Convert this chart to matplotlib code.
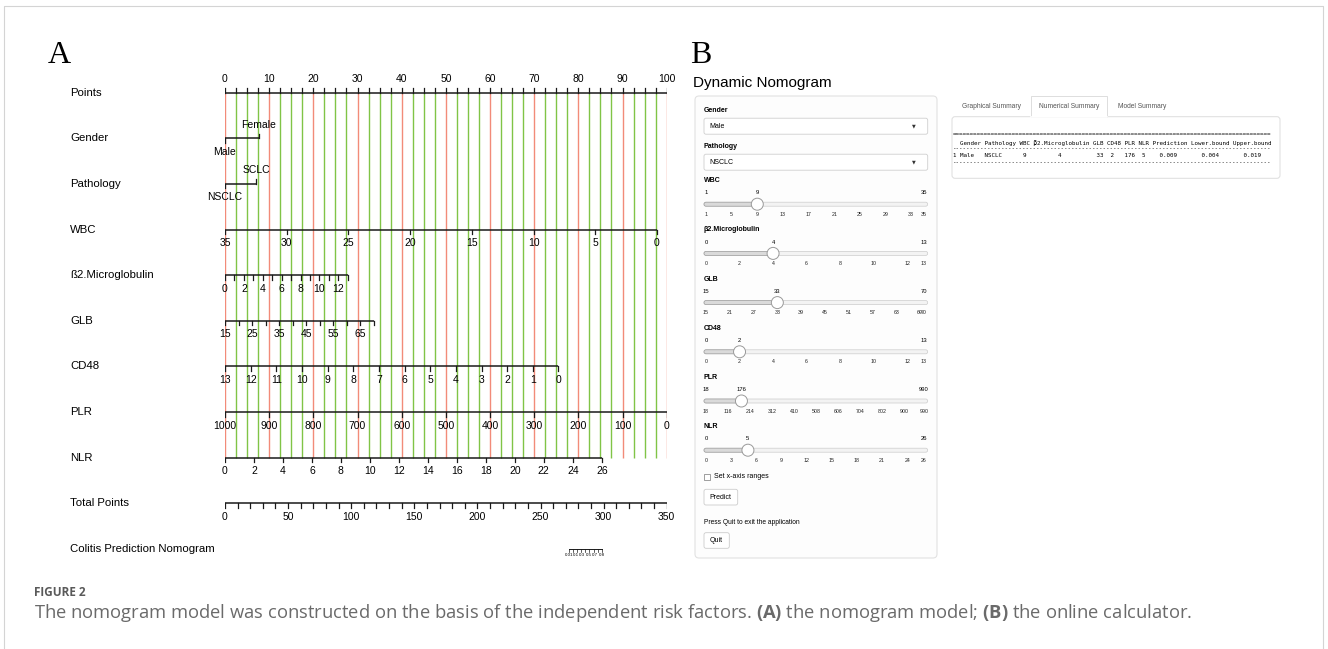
import numpy as np
import matplotlib.pyplot as plt
from matplotlib.patches import FancyBboxPatch, Rectangle, Circle

# ---------------- panel A : nomogram ----------------
row_names = ["Points", "Gender", "Pathology", "WBC", "ß2.Microglobulin", "GLB",
             "CD48", "PLR", "NLR", "Total Points", "Colitis Prediction Nomogram"]

points_ticks = np.arange(0, 100.1, 2.5)
points_labels = list(range(0, 101, 10))
gender_levels = ["Male", "Female"]
gender_points = [0.0, 7.7]
pathology_levels = ["NSCLC", "SCLC"]
pathology_points = [0.0, 7.1]
wbc_ticks = [35, 30, 25, 20, 15, 10, 5, 0]
wbc_points = [0.0, 97.8]
b2m_ticks = list(range(0, 14))
b2m_labels = [0, 2, 4, 6, 8, 10, 12]
b2m_points = [0.0, 27.8]
glb_ticks = list(range(15, 71, 5))
glb_labels = [15, 25, 35, 45, 55, 65]
glb_points = [0.0, 33.7]
cd48_ticks = list(range(13, -1, -1))
cd48_points = [0.0, 75.5]
plr_ticks = list(range(1000, -1, -100))
plr_points = [0.0, 100.0]
nlr_ticks = list(range(0, 27, 2))
nlr_points = [0.0, 85.3]
total_ticks = list(range(0, 351, 10))
total_labels = list(range(0, 351, 50))
total_range = [0, 350]
risk_labels = ["0.01", "0.1", "0.3", "0.5", "0.7", "0.8"]
risk_total = [272.6, 278.0, 283.0, 288.0, 293.0, 298.5]

# ---------------- panel B : online calculator ----------------
select_names = ["Gender", "Pathology"]
select_values = ["Male", "NSCLC"]
slider_names = ["WBC", "β2.Microglobulin", "GLB", "CD48", "PLR", "NLR"]
slider_min = [1, 0, 15, 0, 18, 0]
slider_max = [35, 13, 70, 13, 990, 26]
slider_value = [9, 4, 33, 2, 176, 5]
slider_grid = [
    [1, 5, 9, 13, 17, 21, 25, 29, 33, 35],
    [0, 2, 4, 6, 8, 10, 12, 13],
    [15, 21, 27, 33, 39, 45, 51, 57, 63, 69, 70],
    [0, 2, 4, 6, 8, 10, 12, 13],
    [18, 116, 214, 312, 410, 508, 606, 704, 802, 900, 990],
    [0, 3, 6, 9, 12, 15, 18, 21, 24, 26],
]
tab_names = ["Graphical Summary", "Numerical Summary", "Model Summary"]
summary_cols = ["Gender", "Pathology", "WBC", "β2.Microglobulin", "GLB", "CD48",
                "PLR", "NLR", "Prediction", "Lower.bound", "Upper.bound"]
summary_vals = ["Male", "NSCLC", "9", "4", "33", "2", "176", "5",
                "0.009", "0.004", "0.019"]

RED = "#F28B79"
GREEN = "#80C447"
SANS = ["Liberation Sans", "DejaVu Sans"]

fig = plt.figure(figsize=(13.28, 6.49), dpi=100)
ax = fig.add_axes([0, 0, 1, 1])
ax.set_xlim(0, 1328)
ax.set_ylim(649, 0)
ax.axis("off")

# page border
ax.plot([4, 4, 1323, 1323], [649, 6, 6, 649], color="#d4d4d4", lw=0.8)

# nomogram axes: x in points (0-100), y in pixels
nom = fig.add_axes([225 / 1328, 0, (666.7 - 225) / 1328, 1])
nom.set_xlim(0, 100)
nom.set_ylim(649, 0)
nom.axis("off")

row_y = [92.7 + 45.63 * i for i in range(len(row_names))]
for name, y in zip(row_names, row_y):
    ax.text(70, y, name, ha="left", va="center", fontsize=8.2, family=SANS)

ax.text(48, 63, "A", fontsize=23, family=["Liberation Serif"], va="baseline")
ax.text(690, 63, "B", fontsize=23, family=["Liberation Serif"], va="baseline")

# reference grid lines
for p in points_ticks:
    col = RED if p % 10 == 0 else GREEN
    nom.plot([p, p], [row_y[0], row_y[8]], color=col, lw=1.0, zorder=1,
             solid_capstyle="butt")


def lin(v, v0, v1, p):
    return p[0] + (np.asarray(v, float) - v0) / (v1 - v0) * (p[1] - p[0])


def draw_scale(y, ticks, pts, labels=None, above=False, tick_len=4.5, fs=7.5):
    x = lin(ticks, ticks[0], ticks[-1], pts)
    nom.plot([x.min(), x.max()], [y, y], color="#1a1a1a", lw=1.1, zorder=3,
             solid_capstyle="butt")
    d = -tick_len if above else tick_len
    for xi in x:
        nom.plot([xi, xi], [y, y + d], color="#1a1a1a", lw=0.9, zorder=3)
    if labels is None:
        labels = ticks
    lx = lin(labels, ticks[0], ticks[-1], pts)
    off = -13.5 if above else 13.5
    for xi, lab in zip(lx, labels):
        nom.text(xi, y + off, str(lab), ha="center", va="center", fontsize=fs,
                 family=SANS, zorder=4)


draw_scale(row_y[0], list(points_ticks), [0, 100], labels=points_labels, above=True)

# categorical rows
for y, levels, pts in [(row_y[1], gender_levels, gender_points),
                       (row_y[2], pathology_levels, pathology_points)]:
    nom.plot(pts, [y, y], color="#1a1a1a", lw=1.1, zorder=3)
    nom.plot([pts[0], pts[0]], [y, y + 4.5], color="#1a1a1a", lw=0.9, zorder=3)
    nom.plot([pts[1], pts[1]], [y, y - 4.5], color="#1a1a1a", lw=0.9, zorder=3)
    nom.text(pts[0], y + 13.5, levels[0], ha="center", va="center", fontsize=7.5, family=SANS)
    nom.text(pts[1], y - 13.5, levels[1], ha="center", va="center", fontsize=7.5, family=SANS)

draw_scale(row_y[3], wbc_ticks, wbc_points)
draw_scale(row_y[4], b2m_ticks, b2m_points, labels=b2m_labels)
draw_scale(row_y[5], glb_ticks, glb_points, labels=glb_labels)
draw_scale(row_y[6], cd48_ticks, cd48_points)
draw_scale(row_y[7], plr_ticks, plr_points)
draw_scale(row_y[8], nlr_ticks, nlr_points)
draw_scale(row_y[9], total_ticks, [0, 100], labels=total_labels)

# risk scale (positions on total points)
rx = lin(risk_total, total_range[0], total_range[1], [0, 100])
ry = row_y[10]
nom.plot([rx[0], rx[-1]], [ry, ry], color="#1a1a1a", lw=0.7)
for xi in np.linspace(rx[0], rx[-1], 9):
    nom.plot([xi, xi], [ry, ry + 2.5], color="#1a1a1a", lw=0.5)
for xi, lab in zip(rx, risk_labels):
    nom.text(xi, ry + 6.5, lab, ha="center", va="center", fontsize=3.2, family=SANS)

# ---------------- panel B drawing ----------------
ax.text(693, 83.3, "Dynamic Nomogram", fontsize=11, family=SANS, va="center")
ax.add_patch(FancyBboxPatch((695, 96), 242, 462, boxstyle="round,pad=0,rounding_size=4",
                            fc="#fdfdfd", ec="#e2e2e2", lw=0.8))

bx0, bx1 = 704, 927.7
for i, (nm, val) in enumerate(zip(select_names, select_values)):
    y = 110.7 + 36 * i
    ax.text(bx0, y, nm, fontsize=5, fontweight="bold", family=SANS, va="center")
    ax.add_patch(FancyBboxPatch((bx0, y + 7.5), bx1 - bx0, 16,
                                boxstyle="round,pad=0,rounding_size=2",
                                fc="white", ec="#cfcfcf", lw=0.6))
    ax.text(bx0 + 5, y + 15.5, val, fontsize=5, family=SANS, va="center")
    ax.text(914, y + 15.5, "▼", fontsize=3.5, family=["DejaVu Sans"], va="center",
            ha="center", color="#333333")

gx0, gx1 = 706, 924
for i, nm in enumerate(slider_names):
    y = 180.7 + 49.2 * i
    lo, hi, v = slider_min[i], slider_max[i], slider_value[i]
    ax.text(bx0, y, nm, fontsize=5, fontweight="bold", family=SANS, va="center")
    ty = y + 12.3
    vx = lin(v, lo, hi, [gx0, gx1])
    for xv, s in [(gx0, lo), (vx, v), (gx1, hi)]:
        ax.text(xv, ty, str(s), fontsize=4.2, family=SANS, ha="center", va="center")
    tr = y + 23.5
    ax.add_patch(FancyBboxPatch((bx0, tr - 2), bx1 - bx0, 4,
                                boxstyle="round,pad=0,rounding_size=2",
                                fc="#f3f3f3", ec="#cccccc", lw=0.5))
    ax.add_patch(FancyBboxPatch((bx0, tr - 2), vx - bx0, 4,
                                boxstyle="round,pad=0,rounding_size=2",
                                fc="#dadada", ec="#9e9e9e", lw=0.5))
    ax.add_patch(Circle((vx, tr), 6, fc="white", ec="#9a9a9a", lw=0.7, zorder=5))
    gy = y + 33.6
    for g in slider_grid[i]:
        ax.text(lin(g, lo, hi, [gx0, gx1]), gy, str(g), fontsize=3.8, family=SANS,
                ha="center", va="center", color="#222222")

ax.add_patch(Rectangle((bx0, 474), 6, 6, fc="white", ec="#777777", lw=0.5))
ax.text(714, 477, "Set x-axis ranges", fontsize=5, family=SANS, va="center")
ax.add_patch(FancyBboxPatch((bx0, 489.3), 33.7, 15.7, boxstyle="round,pad=0,rounding_size=2",
                            fc="white", ec="#cccccc", lw=0.6))
ax.text(bx0 + 16.85, 497.2, "Predict", fontsize=5, family=SANS, ha="center", va="center")
ax.text(bx0, 522.7, "Press Quit to exit the application", fontsize=4.8, family=SANS, va="center")
ax.add_patch(FancyBboxPatch((bx0, 532.7), 25.3, 15.6, boxstyle="round,pad=0,rounding_size=2",
                            fc="white", ec="#cccccc", lw=0.6))
ax.text(bx0 + 12.65, 540.5, "Quit", fontsize=5, family=SANS, ha="center", va="center")

# tabs + numerical summary
ax.add_patch(FancyBboxPatch((952, 116.7), 328, 61.6, boxstyle="round,pad=0,rounding_size=3",
                            fc="white", ec="#dddddd", lw=0.7))
ax.add_patch(Rectangle((1030.7, 96), 76.6, 21.2, fc="white", ec="#dddddd", lw=0.7, zorder=3))
ax.plot([1031.2, 1106.8], [116.9, 116.9], color="white", lw=1.2, zorder=4)
for nm, x in zip(tab_names, [991.7, 1069, 1141.7]):
    ax.text(x, 106, nm, fontsize=4.8, family=SANS, ha="center", va="center",
            color="#555555", zorder=5)

header = "  " + " ".join(summary_cols)
row = "1 "
for nm, val in zip(summary_cols, summary_vals):
    cell = val.ljust(len(nm)) if nm in ("Gender", "Pathology") else val.center(len(nm))
    row += cell + " "
mono = dict(fontsize=4.2, family=["DejaVu Sans Mono"], va="center", ha="left")
n = len(header)
ax.text(953, 134.3, "=" * n, **mono)
ax.text(953, 142.7, header, **mono)
ax.text(953, 149.0, "-" * n, **mono)
ax.text(953, 155.7, row, **mono)
ax.text(953, 162.7, "-" * n, **mono)

# caption
plt.rcParams["mathtext.fontset"] = "custom"
plt.rcParams["mathtext.rm"] = "Open Sans"
plt.rcParams["mathtext.bf"] = "Open Sans:bold"
ax.text(34, 592, "FIGURE 2", fontsize=8.5, fontweight="bold", family=["Open Sans"],
        color="#5a5a5a", va="center")
ax.text(34, 613, "The nomogram model was constructed on the basis of the independent risk "
        "factors. $\\mathbf{(A)}$ the nomogram model; $\\mathbf{(B)}$ the online calculator.",
        fontsize=13.2, family=["Open Sans"], color="#6a6a6a", va="center")

fig.savefig("out.png", dpi=100)
